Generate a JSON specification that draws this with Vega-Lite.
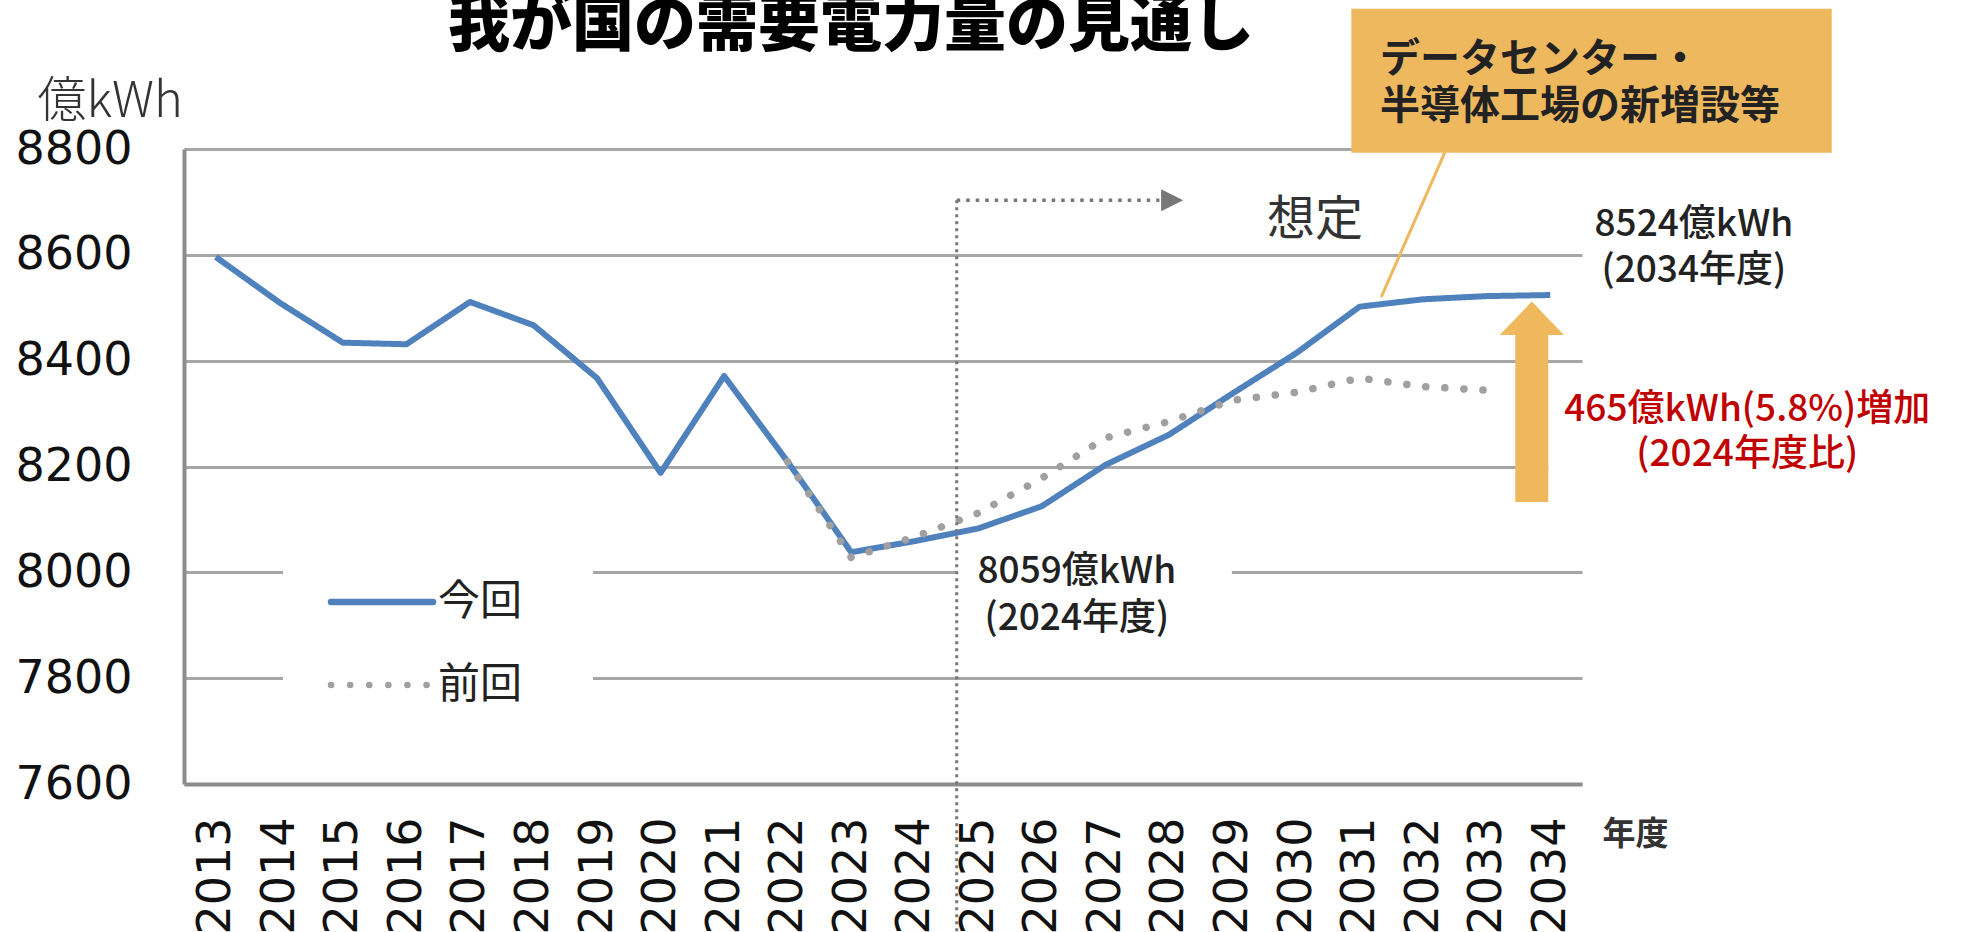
{
  "$schema": "https://vega.github.io/schema/vega-lite/v6.json",
  "width": 1398,
  "height": 635,
  "autosize": {"type": "none"},
  "padding": {"left": 184, "top": 149, "right": 380, "bottom": 148},
  "background": "white",
  "title": {
    "text": "我が国の需要電力量の見通し",
    "font": "Noto Sans CJK JP",
    "fontSize": 62,
    "fontWeight": 900,
    "color": "#000000",
    "anchor": "middle",
    "frame": "group",
    "dx": -32,
    "offset": -50
  },
  "datasets": {
    "demand": [
      {"year": 2013, "value": 8596, "series": "今回"},
      {"year": 2014, "value": 8510, "series": "今回"},
      {"year": 2015, "value": 8434, "series": "今回"},
      {"year": 2016, "value": 8431, "series": "今回"},
      {"year": 2017, "value": 8511, "series": "今回"},
      {"year": 2018, "value": 8467, "series": "今回"},
      {"year": 2019, "value": 8367, "series": "今回"},
      {"year": 2020, "value": 8188, "series": "今回"},
      {"year": 2021, "value": 8371, "series": "今回"},
      {"year": 2022, "value": 8209, "series": "今回"},
      {"year": 2023, "value": 8038, "series": "今回"},
      {"year": 2024, "value": 8059, "series": "今回"},
      {"year": 2025, "value": 8083, "series": "今回"},
      {"year": 2026, "value": 8125, "series": "今回"},
      {"year": 2027, "value": 8203, "series": "今回"},
      {"year": 2028, "value": 8260, "series": "今回"},
      {"year": 2029, "value": 8338, "series": "今回"},
      {"year": 2030, "value": 8414, "series": "今回"},
      {"year": 2031, "value": 8502, "series": "今回"},
      {"year": 2032, "value": 8516, "series": "今回"},
      {"year": 2033, "value": 8522, "series": "今回"},
      {"year": 2034, "value": 8524, "series": "今回"},
      {"year": 2022, "value": 8209, "series": "前回"},
      {"year": 2023, "value": 8028, "series": "前回"},
      {"year": 2024, "value": 8067, "series": "前回"},
      {"year": 2025, "value": 8112, "series": "前回"},
      {"year": 2026, "value": 8178, "series": "前回"},
      {"year": 2027, "value": 8254, "series": "前回"},
      {"year": 2028, "value": 8285, "series": "前回"},
      {"year": 2029, "value": 8325, "series": "前回"},
      {"year": 2030, "value": 8340, "series": "前回"},
      {"year": 2031, "value": 8367, "series": "前回"},
      {"year": 2032, "value": 8351, "series": "前回"},
      {"year": 2033, "value": 8344, "series": "前回"}
    ],
    "masks": [
      {"year": 2024.66, "year2": 2028.99, "value": 7983, "value2": 8017},
      {"year": 2033.97, "year2": 2040.5, "value": 8180, "value2": 8330}
    ],
    "forecastStart": [{"year": 2024.66, "value": 8703, "value2": 7320}],
    "forecastArrow": [{"year": 2024.66, "year2": 2027.85, "value": 8703}],
    "forecastHead": [{"year": 2028.05, "value": 8703}],
    "callout": [{"year": 2031.34, "value": 8520, "year2": 2032.34, "value2": 8793}],
    "calloutBox": [{"year": 2030.87, "year2": 2038.43, "value": 8793, "value2": 9065}],
    "increaseBody": [{"year": 2033.71, "value": 8133, "value2": 8455}],
    "increaseHead": [{"year": 2033.71, "value": 8480}],
    "valueLabels": [
      {"year": 2026.55, "value": 8000, "label": "8059億kWh"},
      {"year": 2026.55, "value": 7912, "label": "(2024年度)"},
      {"year": 2036.26, "value": 8656, "label": "8524億kWh"},
      {"year": 2036.26, "value": 8570, "label": "(2034年度)"}
    ],
    "increaseLabels": [
      {"year": 2037.1, "value": 8307, "label": "465億kWh(5.8%)増加"},
      {"year": 2037.1, "value": 8222, "label": "(2024年度比)"}
    ],
    "forecastLabel": [{"year": 2030.3, "value": 8664, "label": "想定"}],
    "calloutText": [
      {"year": 2031.32, "value": 8968, "label": "データセンター・"},
      {"year": 2031.32, "value": 8880, "label": "半導体工場の新増設等"}
    ]
  },
  "encoding": {
    "x": {
      "field": "year",
      "type": "quantitative",
      "scale": {"domain": [2012.5, 2034.5], "nice": false, "zero": false},
      "axis": {
        "values": [2013, 2014, 2015, 2016, 2017, 2018, 2019, 2020, 2021, 2022, 2023, 2024, 2025, 2026, 2027, 2028, 2029, 2030, 2031, 2032, 2033, 2034],
        "format": "d",
        "labelAngle": -90,
        "labelAlign": "right",
        "labelBaseline": "middle",
        "labelFont": "DejaVu Sans",
        "labelFontSize": 46,
        "labelColor": "#111111",
        "labelPadding": 33,
        "labelFlush": false,
        "labelOverlap": false,
        "ticks": false,
        "tickSize": 0,
        "grid": false,
        "domainColor": "#8c8c8c",
        "domainWidth": 4,
        "title": "年度",
        "titleAngle": 0,
        "titleX": 1451,
        "titleY": 50,
        "titleAlign": "center",
        "titleBaseline": "middle",
        "titleFont": "Noto Sans CJK JP",
        "titleFontSize": 33,
        "titleFontWeight": "bold",
        "titleColor": "#333333"
      }
    },
    "y": {
      "field": "value",
      "type": "quantitative",
      "scale": {"domain": [7600, 8800], "nice": false, "zero": false},
      "axis": {
        "values": [7600, 7800, 8000, 8200, 8400, 8600, 8800],
        "format": "d",
        "labelFont": "DejaVu Sans",
        "labelFontSize": 46,
        "labelColor": "#111111",
        "labelPadding": 52,
        "ticks": false,
        "tickSize": 0,
        "grid": true,
        "gridColor": "#a6a6a6",
        "gridWidth": 3,
        "domainColor": "#8c8c8c",
        "domainWidth": 4,
        "title": "億kWh",
        "titleAngle": 0,
        "titleAlign": "left",
        "titleBaseline": "middle",
        "titleX": -147,
        "titleY": -48,
        "titleFont": "Noto Sans CJK JP",
        "titleFontSize": 49,
        "titleFontWeight": 300,
        "titleColor": "#333333"
      }
    }
  },
  "layer": [
    {
      "data": {"name": "masks"},
      "mark": {"type": "rect", "fill": "white"},
      "encoding": {"x2": {"field": "year2"}, "y2": {"field": "value2"}}
    },
    {
      "data": {"name": "demand"},
      "transform": [{"filter": "datum.series === '今回'"}],
      "mark": {"type": "line", "strokeWidth": 6, "strokeJoin": "round"},
      "encoding": {
        "color": {
          "field": "series",
          "type": "nominal",
          "scale": {"domain": ["今回", "前回"], "range": ["#4f81bd", "#a0a0a0"]},
          "legend": {
            "orient": "none",
            "legendX": 99,
            "legendY": 354,
            "title": null,
            "encode": {"symbols": {"update": {"strokeCap": {"value": "round"}}}}
          }
        },
        "strokeDash": {
          "field": "series",
          "type": "nominal",
          "scale": {"domain": ["今回", "前回"], "range": [[1, 0], [0.1, 19]]},
          "legend": {
            "orient": "none",
            "legendX": 99,
            "legendY": 354,
            "title": null,
            "encode": {"symbols": {"update": {"strokeCap": {"value": "round"}}}}
          }
        }
      }
    },
    {
      "data": {"name": "demand"},
      "transform": [{"filter": "datum.series === '前回'"}],
      "mark": {"type": "line", "strokeWidth": 7.5, "strokeCap": "round", "strokeJoin": "round"},
      "encoding": {
        "color": {"field": "series", "type": "nominal"},
        "strokeDash": {"field": "series", "type": "nominal"}
      }
    },
    {
      "data": {"name": "forecastStart"},
      "mark": {"type": "rule", "color": "#777777", "strokeWidth": 3, "strokeDash": [3, 4]},
      "encoding": {"y2": {"field": "value2"}}
    },
    {
      "data": {"name": "forecastArrow"},
      "mark": {"type": "rule", "color": "#777777", "strokeWidth": 3.5, "strokeDash": [3.5, 6]},
      "encoding": {"x2": {"field": "year2"}}
    },
    {
      "data": {"name": "forecastHead"},
      "mark": {"type": "point", "shape": "M-1,-1L1,0L-1,1Z", "size": 484, "filled": true, "fill": "#777777", "stroke": null, "opacity": 1},
      "encoding": {}
    },
    {
      "data": {"name": "callout"},
      "mark": {"type": "rule", "color": "#eeb85e", "strokeWidth": 3},
      "encoding": {"x2": {"field": "year2"}, "y2": {"field": "value2"}}
    },
    {
      "data": {"name": "calloutBox"},
      "mark": {"type": "rect", "fill": "#eeb85e"},
      "encoding": {"x2": {"field": "year2"}, "y2": {"field": "value2"}}
    },
    {
      "data": {"name": "increaseBody"},
      "mark": {"type": "rule", "color": "#efb85c", "strokeWidth": 33, "strokeCap": "butt"},
      "encoding": {"y2": {"field": "value2"}}
    },
    {
      "data": {"name": "increaseHead"},
      "mark": {"type": "point", "shape": "M-1,0.52L0,-0.52L1,0.52Z", "size": 4134, "filled": true, "fill": "#efb85c", "stroke": null, "opacity": 1},
      "encoding": {}
    },
    {
      "data": {"name": "valueLabels"},
      "mark": {"type": "text", "font": "Noto Sans CJK JP", "fontSize": 37, "fontWeight": 500, "color": "#222222", "align": "center", "baseline": "middle"},
      "encoding": {"text": {"field": "label"}}
    },
    {
      "data": {"name": "increaseLabels"},
      "mark": {"type": "text", "font": "Noto Sans CJK JP", "fontSize": 37, "fontWeight": 500, "color": "#c00000", "align": "center", "baseline": "middle"},
      "encoding": {"text": {"field": "label"}}
    },
    {
      "data": {"name": "forecastLabel"},
      "mark": {"type": "text", "font": "Noto Sans CJK JP", "fontSize": 48, "fontWeight": 400, "color": "#333333", "align": "center", "baseline": "middle"},
      "encoding": {"text": {"field": "label"}}
    },
    {
      "data": {"name": "calloutText"},
      "mark": {"type": "text", "font": "Noto Sans CJK JP", "fontSize": 40, "fontWeight": 700, "color": "#222222", "align": "left", "baseline": "middle"},
      "encoding": {"text": {"field": "label"}}
    }
  ],
  "config": {
    "view": {"stroke": null},
    "legend": {
      "symbolType": "M-2,0L2,0",
      "symbolSize": 2601,
      "symbolStrokeWidth": 6.5,
      "labelFont": "Noto Sans CJK JP",
      "labelFontSize": 42,
      "labelColor": "#222222",
      "labelOffset": 27,
      "rowPadding": 33,
      "padding": 70,
      "fillColor": "white",
      "strokeColor": null,
      "direction": "vertical"
    }
  }
}
